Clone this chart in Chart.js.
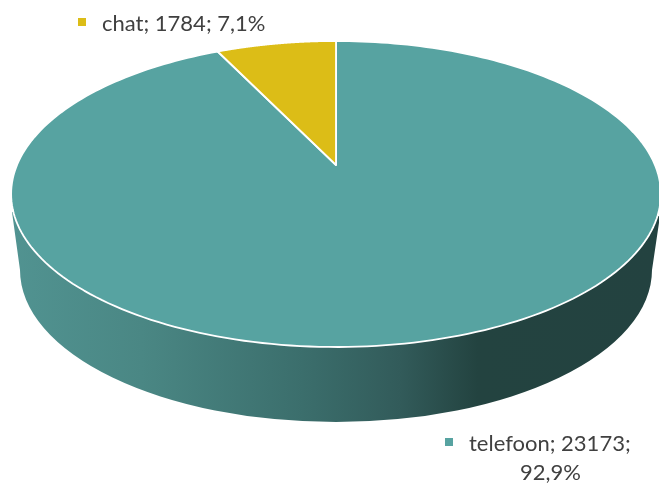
<!DOCTYPE html>
<html>
<head>
<meta charset="utf-8">
<style>html,body{margin:0;padding:0;background:#fff}canvas{display:block}</style>
<script src="https://cdn.jsdelivr.net/npm/chart.js@4"></script>
</head>
<body>
<canvas id="c" width="659" height="487"></canvas>
<script>
const categories = ['telefoon', 'chat'];
const values = [23173, 1784];
const percentLabels = ['92,9%', '7,1%'];
const sliceColors = ['#57a3a1', '#dcbd17'];

const P = -0.1895, RX = 319 / 165, RY = 147.5 / 165;
function project(arc, a) {
  const r = arc.outerRadius;
  const x = Math.cos(a), y = Math.sin(a), w = 1 + P * y;
  return [arc.x + RX * r * x / w, arc.y + RY * r * y / w];
}
const pie3d = {
  id: 'pie3d',
  beforeDatasetDraw(chart, args) {
    const ctx = chart.ctx;
    const arcs = chart.getDatasetMeta(args.index).data;
    // side wall
    const g = ctx.createLinearGradient(12, 0, 659, 0);
    g.addColorStop(0, '#519391');
    g.addColorStop(0.2, '#4a8784');
    g.addColorStop(0.45, '#3b6e6c');
    g.addColorStop(0.6, '#325b5a');
    g.addColorStop(0.72, '#234340');
    g.addColorStop(1, '#234240');
    ctx.save();
    ctx.beginPath();
    ctx.moveTo(12, 212);
    ctx.lineTo(20, 270);
    ctx.ellipse(336, 270, 316, 152, 0, Math.PI, 0, true);
    ctx.lineTo(660, 216);
    ctx.closePath();
    ctx.fillStyle = g;
    ctx.fill();
    // top face
    arcs.forEach((arc, i) => {
      const p = arc.getProps(['x', 'y', 'startAngle', 'endAngle', 'outerRadius'], true);
      ctx.beginPath();
      ctx.moveTo(p.x, p.y);
      const n = 240;
      for (let k = 0; k <= n; k++) {
        const a = p.startAngle + (p.endAngle - p.startAngle) * k / n;
        const q = project(p, a);
        ctx.lineTo(q[0], q[1]);
      }
      ctx.closePath();
      ctx.fillStyle = sliceColors[i];
      ctx.fill();
      ctx.strokeStyle = '#ffffff';
      ctx.lineWidth = 1.8;
      ctx.lineJoin = 'round';
      ctx.stroke();
    });
    ctx.restore();
    return false;
  },
  afterDraw(chart) {
    const ctx = chart.ctx;
    ctx.save();
    ctx.font = '22px Lato';
    ctx.fillStyle = '#404040';
    ctx.textBaseline = 'alphabetic';
    ctx.textAlign = 'left';
    ctx.fillText(categories[1] + '; ' + values[1] + '; ' + percentLabels[1], 102, 31);
    ctx.fillText(categories[0] + '; ' + values[0] + ';', 469, 451);
    ctx.fillText(percentLabels[0], 520, 480);
    ctx.fillStyle = sliceColors[1];
    ctx.fillRect(78, 18, 8, 8);
    ctx.fillStyle = sliceColors[0];
    ctx.fillRect(445, 438, 8, 8);
    ctx.restore();
  }
};
new Chart(document.getElementById('c'), {
  type: 'pie',
  data: { labels: categories, datasets: [{ data: values, backgroundColor: sliceColors, borderWidth: 0 }] },
  options: {
    responsive: false,
    animation: false,
    layout: { padding: { left: 13, bottom: 157 } },
    plugins: { legend: { display: false }, tooltip: { enabled: false } }
  },
  plugins: [pie3d]
});
</script>
</body>
</html>
